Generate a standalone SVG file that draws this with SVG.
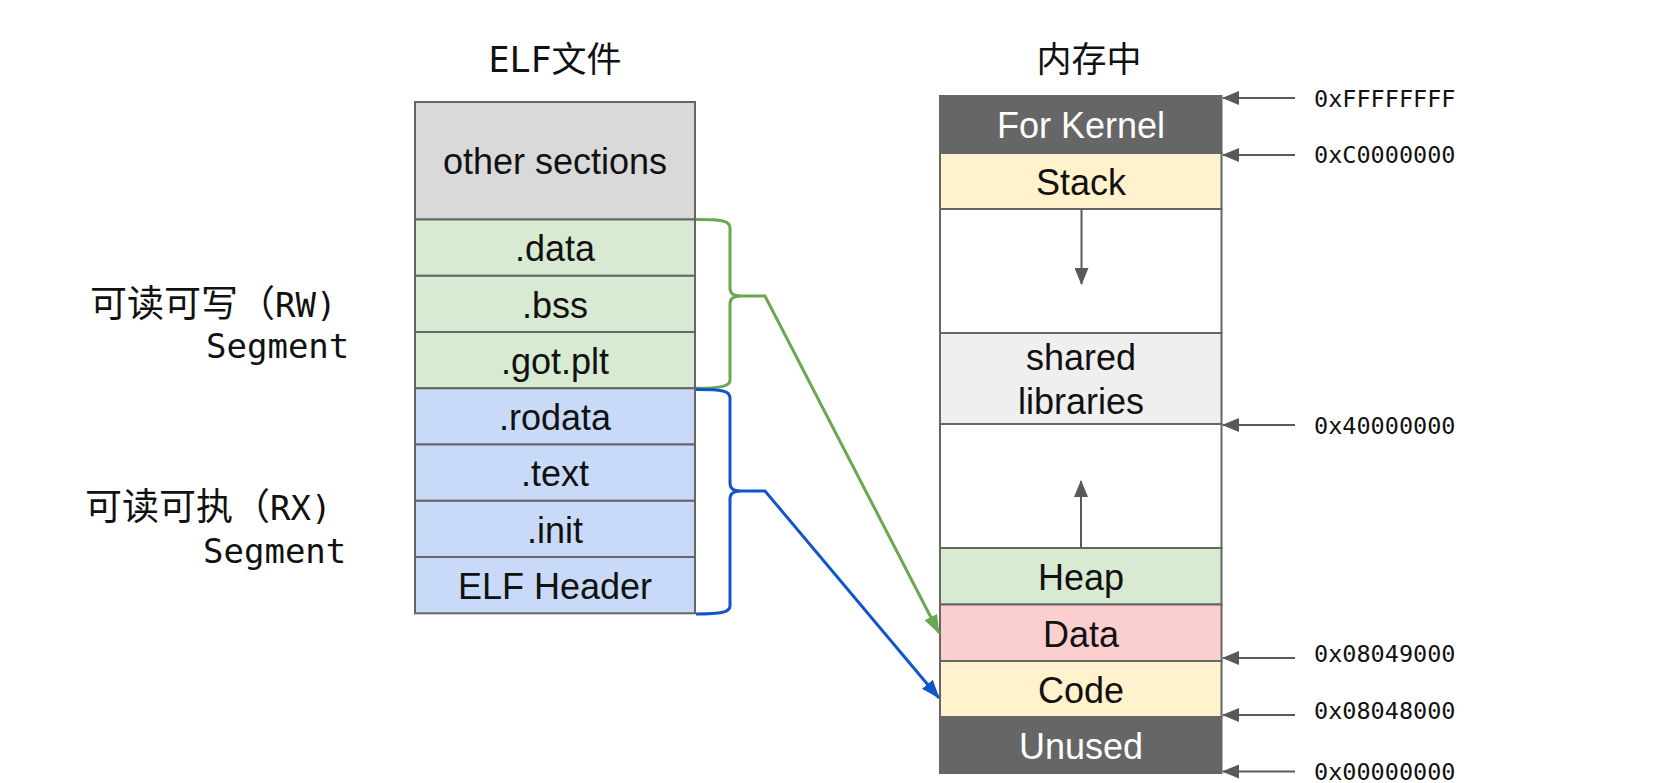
<svg xmlns="http://www.w3.org/2000/svg" width="1680" height="783" viewBox="0 0 1680 783">
<defs>
<style>
.cell{stroke:#666666;stroke-width:2}
.t{font-family:"Liberation Sans",Arial,sans-serif;font-size:36px;text-anchor:middle;fill:#111111}
.tw{font-family:"Liberation Sans",Arial,sans-serif;font-size:36px;text-anchor:middle;fill:#ffffff}
.mono{font-family:"DejaVu Sans Mono","Noto Sans CJK SC",monospace;fill:#111111}
.cjk{font-size:37px}
.addr{font-family:"DejaVu Sans Mono",monospace;font-size:23.5px;fill:#111111}
.ga{stroke:#595959;stroke-width:2;fill:none}
</style>
<marker id="ag" markerWidth="17" markerHeight="14" refX="16" refY="7" orient="auto" markerUnits="userSpaceOnUse"><path d="M0,0 L17,7 L0,14 z" fill="#595959"/></marker>
<marker id="agreen" markerWidth="19" markerHeight="14" refX="18" refY="7" orient="auto" markerUnits="userSpaceOnUse"><path d="M0,0 L19,7 L0,14 z" fill="#6aa84f"/></marker>
<marker id="ablue" markerWidth="19" markerHeight="14" refX="18" refY="7" orient="auto" markerUnits="userSpaceOnUse"><path d="M0,0 L19,7 L0,14 z" fill="#1155cc"/></marker>
</defs>
<rect width="1680" height="783" fill="#ffffff"/>

<g id="titles">
<text class="mono" x="555" y="72" font-size="35" text-anchor="middle">ELF文件</text>
<text class="mono" x="1089" y="72" font-size="35" text-anchor="middle">内存中</text>
</g>

<g id="labels">
<text class="mono" x="90" y="317" font-size="34"><tspan class="cjk">可读可写（</tspan>RW)</text>
<text class="mono" x="206" y="358" font-size="34">Segment</text>
<text class="mono" x="85" y="520" font-size="34"><tspan class="cjk">可读可执（</tspan>RX)</text>
<text class="mono" x="203" y="563" font-size="34">Segment</text>
</g>

<g id="elf">
<g id="other-sections"><rect class="cell" x="415" y="102" width="280" height="117.5" fill="#d9d9d9"/><text class="t" x="555" y="174">other sections</text></g>
<g id="data-sec"><rect class="cell" x="415" y="219.5" width="280" height="56.3" fill="#d9ead3"/><text class="t" x="555" y="261">.data</text></g>
<g id="bss-sec"><rect class="cell" x="415" y="275.8" width="280" height="56.2" fill="#d9ead3"/><text class="t" x="555" y="317.5">.bss</text></g>
<g id="gotplt-sec"><rect class="cell" x="415" y="332" width="280" height="56.3" fill="#d9ead3"/><text class="t" x="555" y="373.5">.got.plt</text></g>
<g id="rodata-sec"><rect class="cell" x="415" y="388.3" width="280" height="56.2" fill="#c9daf8"/><text class="t" x="555" y="430">.rodata</text></g>
<g id="text-sec"><rect class="cell" x="415" y="444.5" width="280" height="56.3" fill="#c9daf8"/><text class="t" x="555" y="486">.text</text></g>
<g id="init-sec"><rect class="cell" x="415" y="500.8" width="280" height="56.2" fill="#c9daf8"/><text class="t" x="555" y="542.5">.init</text></g>
<g id="elf-header"><rect class="cell" x="415" y="557" width="280" height="56.3" fill="#c9daf8"/><text class="t" x="555" y="598.5">ELF Header</text></g>
</g>

<g id="memory">
<g id="kernel"><rect class="cell" x="940" y="96" width="281.5" height="57" fill="#666666"/><text class="tw" x="1081" y="138">For Kernel</text></g>
<g id="stack"><rect class="cell" x="940" y="153" width="281.5" height="56" fill="#fff2cc"/><text class="t" x="1081" y="194.5">Stack</text></g>
<g id="gap1"><rect class="cell" x="940" y="209" width="281.5" height="124" fill="#ffffff"/></g>
<g id="shared"><rect class="cell" x="940" y="333" width="281.5" height="91" fill="#efefef"/><text class="t" x="1081" y="370">shared</text><text class="t" x="1081" y="414">libraries</text></g>
<g id="gap2"><rect class="cell" x="940" y="424" width="281.5" height="124" fill="#ffffff"/></g>
<g id="heap"><rect class="cell" x="940" y="548" width="281.5" height="56.5" fill="#d9ead3"/><text class="t" x="1081" y="590">Heap</text></g>
<g id="data"><rect class="cell" x="940" y="604.5" width="281.5" height="56.5" fill="#fccfcf"/><text class="t" x="1081" y="646.5">Data</text></g>
<g id="code"><rect class="cell" x="940" y="661" width="281.5" height="56" fill="#fff2cc"/><text class="t" x="1081" y="702.5">Code</text></g>
<g id="unused"><rect class="cell" x="940" y="717" width="281.5" height="56" fill="#666666"/><text class="tw" x="1081" y="758.5">Unused</text></g>
</g>

<g id="addresses">
<text class="addr" x="1314" y="106.5">0xFFFFFFFF</text>
<text class="addr" x="1314" y="163">0xC0000000</text>
<text class="addr" x="1314" y="433.5">0x40000000</text>
<text class="addr" x="1314" y="662">0x08049000</text>
<text class="addr" x="1314" y="718.5">0x08048000</text>
<text class="addr" x="1314" y="780">0x00000000</text>
</g>

<g id="connectors">
<line class="ga" x1="1081.5" y1="209" x2="1081.5" y2="284" marker-end="url(#ag)"/>
<line class="ga" x1="1081" y1="548" x2="1081" y2="481" marker-end="url(#ag)"/>
<line class="ga" x1="1295" y1="98" x2="1223" y2="98" marker-end="url(#ag)"/>
<line class="ga" x1="1295" y1="155" x2="1223" y2="155" marker-end="url(#ag)"/>
<line class="ga" x1="1295" y1="425" x2="1223" y2="425" marker-end="url(#ag)"/>
<line class="ga" x1="1295" y1="658" x2="1223" y2="658" marker-end="url(#ag)"/>
<line class="ga" x1="1295" y1="715" x2="1223" y2="715" marker-end="url(#ag)"/>
<line class="ga" x1="1295" y1="771.5" x2="1223" y2="771.5" marker-end="url(#ag)"/>
<path d="M696,219.5 C722,219.5 730,220.5 730,228 L730,288 C730,293.5 733,296 741,296 C733,296 730,298.5 730,304 L730,380 C730,386 722,388.3 696,388.3" fill="none" stroke="#6aa84f" stroke-width="3"/>
<polyline points="741,296 765,296 939,633" fill="none" stroke="#6aa84f" stroke-width="3" marker-end="url(#agreen)"/>
<path d="M696,389.5 C722,389.5 730,390.5 730,398 L730,483 C730,488.5 733,491 741,491 C733,491 730,493.5 730,499 L730,606 C730,612 722,614 696,614" fill="none" stroke="#1155cc" stroke-width="3"/>
<polyline points="741,491 765,491 939,698" fill="none" stroke="#1155cc" stroke-width="3" marker-end="url(#ablue)"/>
</g>
</svg>
